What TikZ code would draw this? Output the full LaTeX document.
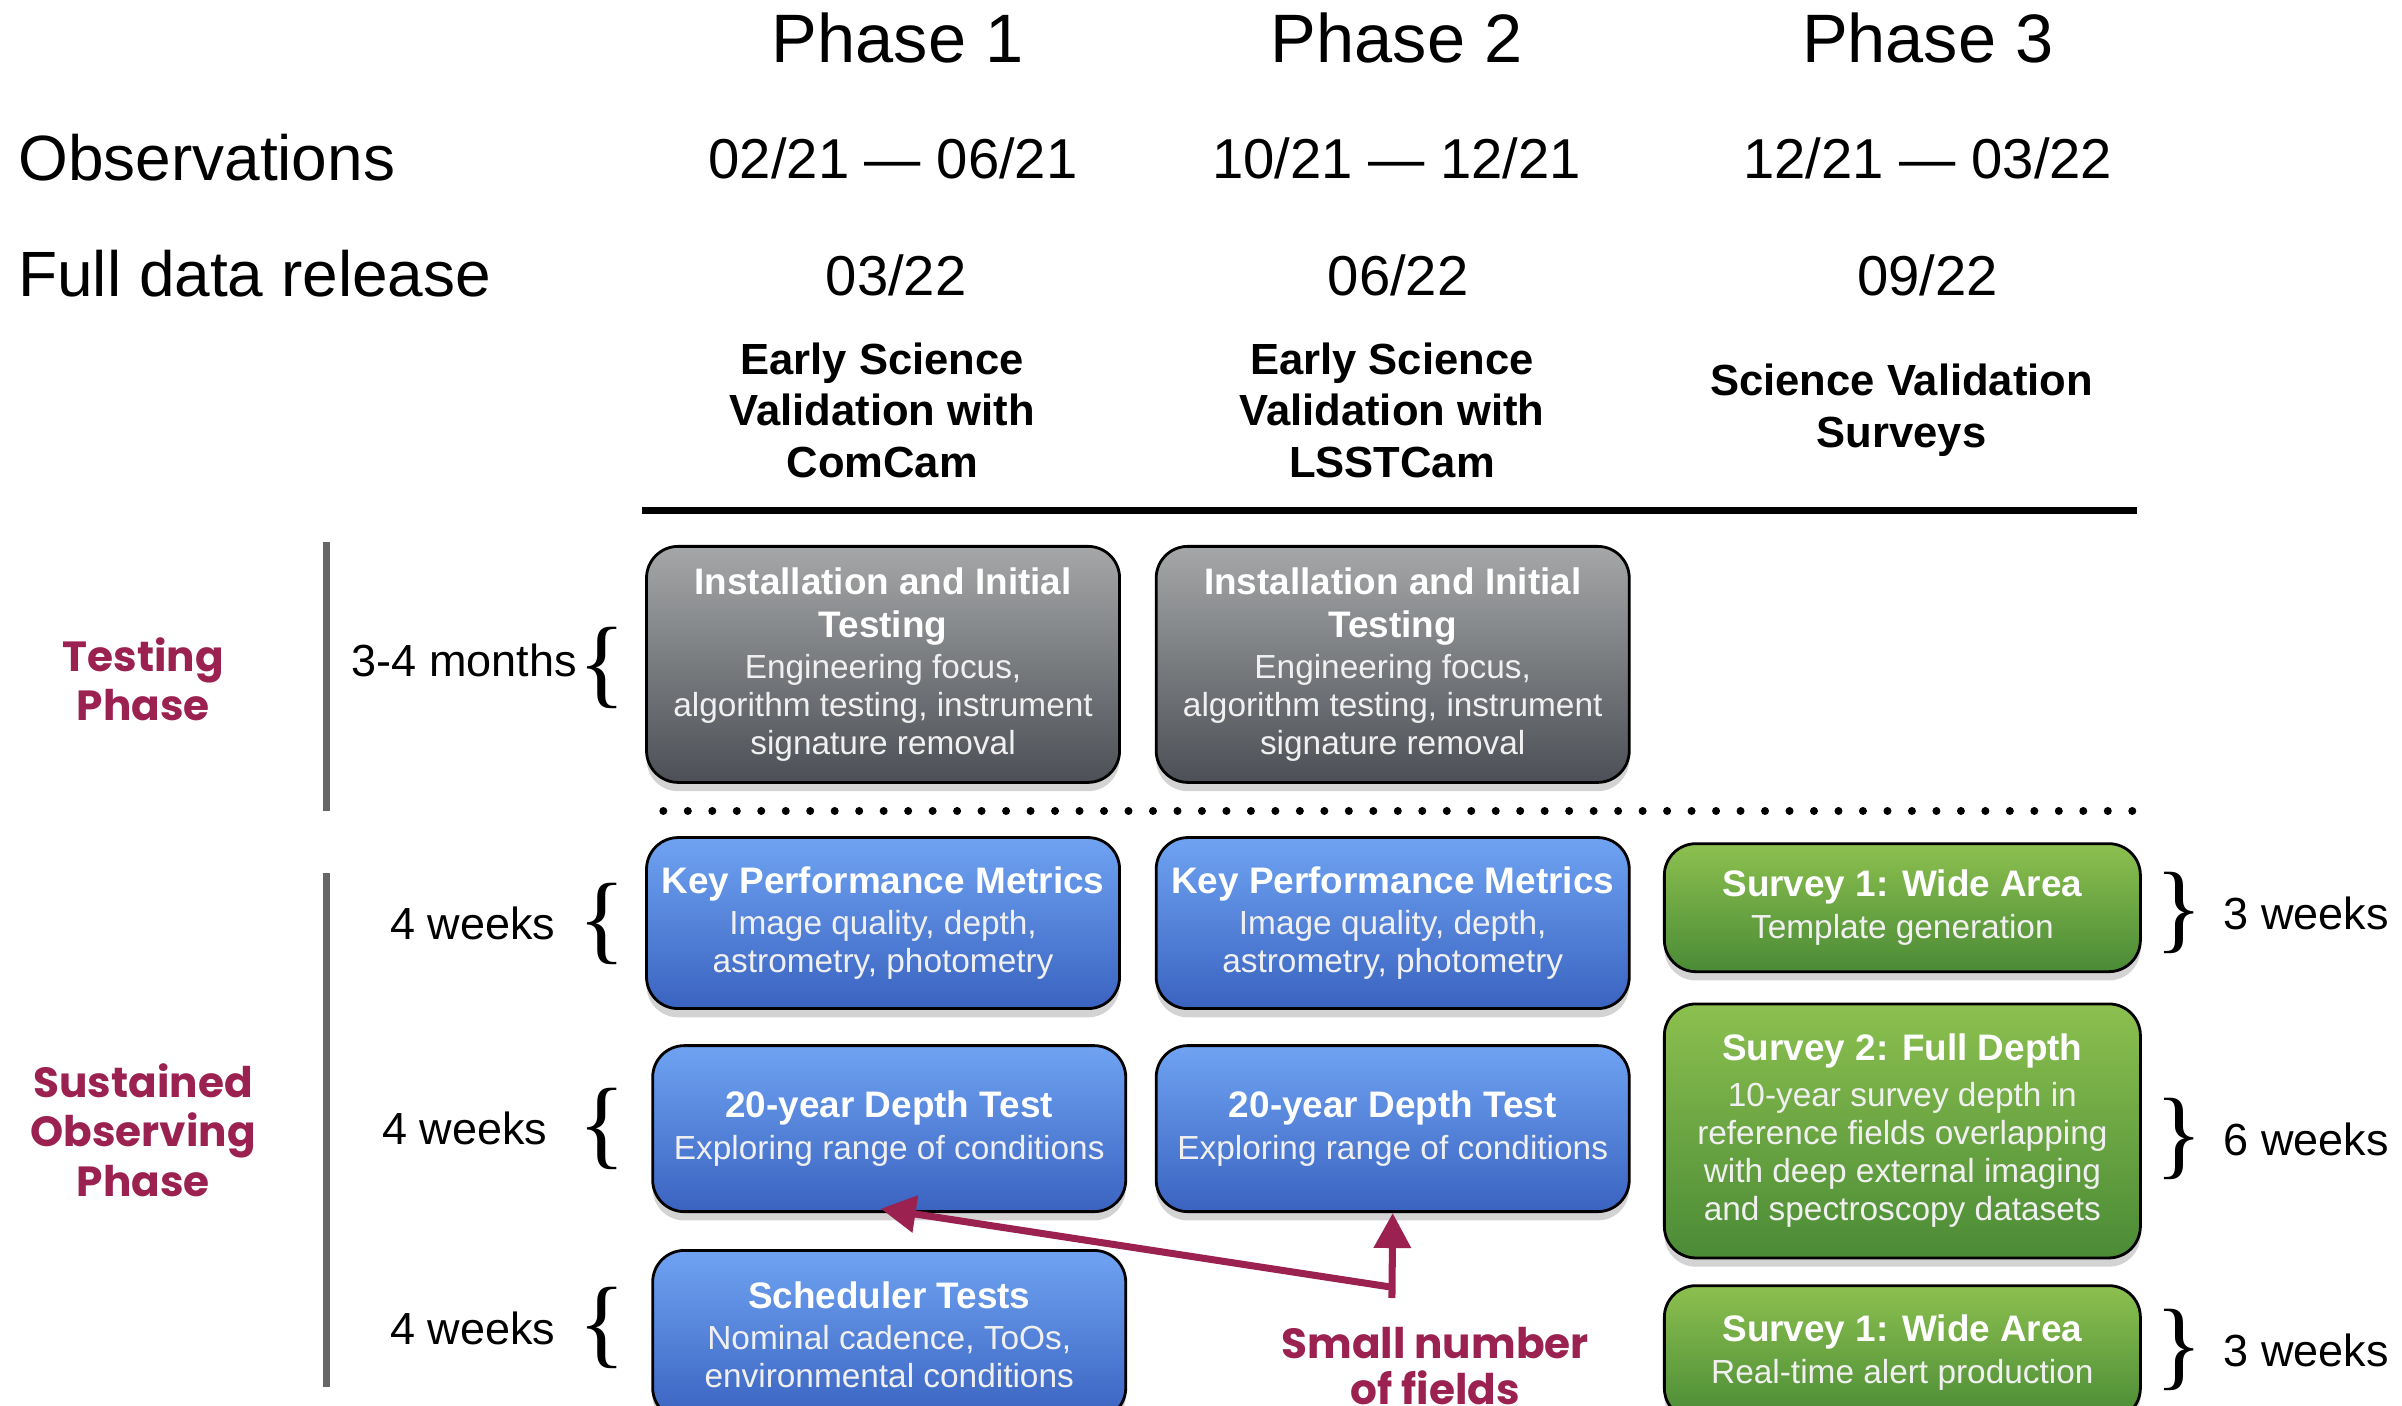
\documentclass[tikz,border=0pt]{standalone}
\usepackage{fontspec}
\setmainfont{Liberation Sans}
\newfontfamily\labelfont{Poppins}
\newfontfamily\bracefont{Liberation Serif}
\usepackage{tikz}
\usetikzlibrary{positioning, arrows.meta, shadows}
\definecolor{lsstred}{RGB}{155,33,80}
\definecolor{bargray}{RGB}{102,102,102}
\newcommand{\bt}[1]{\textcolor{white}{\bfseries\fontsize{10.5}{12.2}\selectfont #1}}
\tikzset{
x=0.0154cm, y=-0.0154cm, % one unit is one pixel of the slide, y runs down
phase/.style={anchor=base, font=\fontsize{19.5}{22}\selectfont}, % Phase 1, 2, 3
rowhead/.style={anchor=base west, inner sep=0pt, font=\fontsize{18.2}{21}\selectfont}, % Observations, Full data release
date/.style={anchor=base, font=\fontsize{16}{19}\selectfont},
goal/.style={align=center, font=\bfseries\fontsize{12.4}{14.6}\selectfont},
phaselabel/.style={align=center, text=lsstred, font=\labelfont\bfseries\fontsize{12}{14}\selectfont},
dur/.style={font=\fontsize{12.8}{15}\selectfont, inner sep=0pt},
curly/.style={font=\bracefont\fontsize{28}{28}\selectfont, inner sep=0pt},
box/.style={draw=black, line width=0.8pt, rounded corners=9pt, minimum width=4.73cm,
  align=center, inner sep=2pt, text=white!88!gray, font=\fontsize{9.5}{10.8}\selectfont,
  drop shadow={shadow xshift=0pt, shadow yshift=-2.5pt, opacity=0.35}},
graybox/.style={box, top color={rgb,255:red,165;green,167;blue,168}, bottom color={rgb,255:red,76;green,79;blue,85}},
bluebox/.style={box, top color={rgb,255:red,111;green,163;blue,242}, bottom color={rgb,255:red,58;green,99;blue,192}},
greenbox/.style={box, minimum width=4.76cm, top color={rgb,255:red,140;green,192;blue,79}, bottom color={rgb,255:red,75;green,139;blue,54}},
fieldarrow/.style={draw=lsstred, line width=2pt, -{Triangle[length=0.35cm, width=0.36cm]}},
}
\begin{document}
\begin{tikzpicture}
\useasboundingbox (0,0) rectangle (1560,913);

% header
\node[phase] (p1) at (583,40.7) {Phase 1};
\node[phase] (p2) at (907,40.7) {Phase 2};
\node[phase] (p3) at (1252,40.7) {Phase 3};
\node[rowhead] (obs) at (11.4,117) {Observations};
\node[rowhead] (rel) at (11.4,192.7) {Full data release};
\node[date] (obs1) at (580,116) {02/21 — 06/21};
\node[date] (obs2) at (907,116) {10/21 — 12/21};
\node[date] (obs3) at (1252,116) {12/21 — 03/22};
\node[date] (rel1) at (582,192) {03/22};
\node[date] (rel2) at (908,192) {06/22};
\node[date] (rel3) at (1252,192) {09/22};
\node[goal] (goal1) at (573,266.5) {Early Science\\Validation with\\ComCam};
\node[goal] (goal2) at (904,266.5) {Early Science\\Validation with\\LSSTCam};
\node[goal] (goal3) at (1235,266.5) {Science Validation\\Surveys};
\draw[line width=2.2pt] (417,331.5) -- (1388,331.5);

% phases on the left
\node[phaselabel] (testing) at (93,441) {Testing\\Phase};
\node[phaselabel] (sustained) at (93,734) {Sustained\\Observing\\Phase};
\draw[bargray, line width=1.9pt] (212,352) -- (212,527);
\draw[bargray, line width=1.9pt] (212,567) -- (212,901);

\node[dur, anchor=east] (d0) at (375,429) {3-4 months};
\node[dur, anchor=east] (d1) at (361,600) {4 weeks};
\node[dur, anchor=east] (d2) at (356,733) {4 weeks};
\node[dur, anchor=east] (d3) at (361,863) {4 weeks};
\node[curly] (lb0) at (391,433.5) {\{};
\node[curly] (lb1) at (391,600) {\{};
\node[curly] (lb2) at (391,733.5) {\{};
\node[curly] (lb3) at (391,862.5) {\{};

% testing boxes
\node[graybox, minimum height=2.36cm] (inst1) at (573.5,431.5)
  {\bt{Installation and Initial}\\[1.4pt]\bt{Testing}\\[0.8pt]Engineering focus,\\algorithm testing, instrument\\signature removal};
\node[graybox, minimum height=2.36cm] (inst2) at (904.5,431.5)
  {\bt{Installation and Initial}\\[1.4pt]\bt{Testing}\\[0.8pt]Engineering focus,\\algorithm testing, instrument\\signature removal};

% dotted divider
\foreach \i in {0,...,60}
  \fill (430.8+15.9*\i,526.7) circle (2.6);

% sustained observing boxes
\node[bluebox, minimum height=1.71cm] (kpm1) at (573.5,599.5)
  {\bt{Key Performance Metrics}\\[1pt]Image quality, depth,\\astrometry, photometry};
\node[bluebox, minimum height=1.71cm] (kpm2) at (904.5,599.5)
  {\bt{Key Performance Metrics}\\[1pt]Image quality, depth,\\astrometry, photometry};
\node[bluebox, minimum height=1.66cm] (depth1) at (577.5,733)
  {\bt{20-year Depth Test}\\[1pt]Exploring range of conditions};
\node[bluebox, minimum height=1.66cm] (depth2) at (904.5,733)
  {\bt{20-year Depth Test}\\[1pt]Exploring range of conditions};
\node[bluebox, minimum height=1.69cm] (sched) at (577.5,867)
  {\bt{Scheduler Tests}\\[1pt]Nominal cadence, ToOs,\\environmental conditions};

\node[greenbox, minimum height=1.28cm] (wide1) at (1235.5,589.5)
  {\bt{Survey 1: Wide Area}\\[1pt]Template generation};
\node[greenbox, minimum height=2.54cm] (full) at (1235.5,734.5)
  {\bt{Survey 2: Full Depth}\\[2.3pt]10-year survey depth in\\reference fields overlapping\\with deep external imaging\\and spectroscopy datasets};
\node[greenbox, minimum height=1.34cm] (wide2) at (1235.5,878.5)
  {\bt{Survey 1: Wide Area}\\[1pt]Real-time alert production};

\node[curly] (rb1) at (1415,593) {\}};
\node[curly] (rb2) at (1415,740) {\}};
\node[curly] (rb3) at (1415,877) {\}};
\node[dur, right=0.2cm of rb1] (w1) {3 weeks};
\node[dur, right=0.2cm of rb2] (w2) {6 weeks};
\node[dur, right=0.2cm of rb3] (w3) {3 weeks};

% small number of fields
\node[phaselabel, align=center, font=\labelfont\bfseries\fontsize{12}{13.1}\selectfont] (fields) at (932,887) {Small number\\of fields};
\coordinate (stem) at (904,843);
\coordinate (fork) at (904,836);
\coordinate (tip1) at (572,785);
\draw[fieldarrow] (stem) -- (depth2.south);
\draw[fieldarrow] (fork) -- (tip1);
\end{tikzpicture}
\end{document}
